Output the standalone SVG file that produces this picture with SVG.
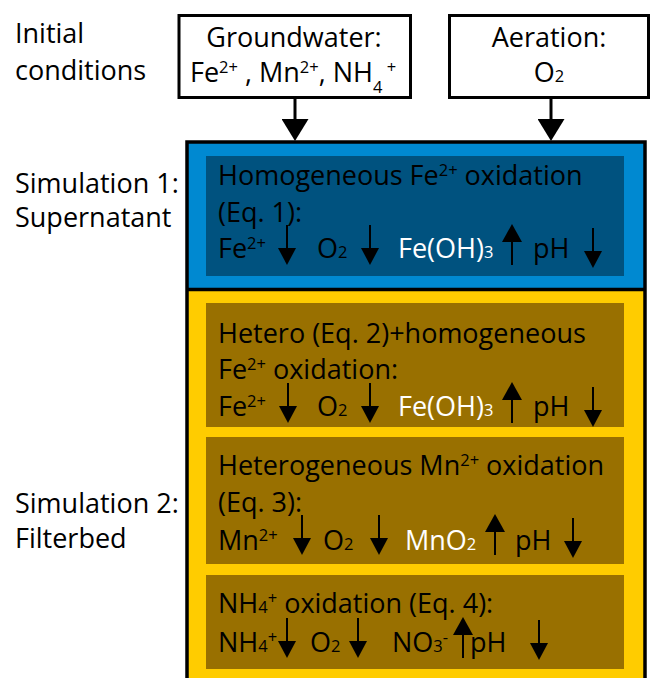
<svg xmlns="http://www.w3.org/2000/svg" xmlns:xlink="http://www.w3.org/1999/xlink" width="652" height="678" viewBox="0 0 652 678">
<style>
.t{font-family:"Open Sans","Liberation Sans",sans-serif;font-size:27px;fill:#000}
.w{fill:#fff}
.s{font-size:16.5px}
.box{fill:#fff;stroke:#000;stroke-width:3}
.conn{stroke:#000;stroke-width:3;fill:none}
.blue{fill:#0089D1}
.dblue{fill:#00527F}
.yel{fill:#FFCC00}
.brown{fill:#997000}
</style>
<defs>
<marker id="head" viewBox="0 0 22 27" refX="0" refY="13.5" markerWidth="22" markerHeight="27" markerUnits="userSpaceOnUse" orient="auto">
<path d="M0,0 L22,13.5 L0,27 z" fill="#000"/>
</marker>
<g id="ad"><line x1="0" y1="0" x2="0" y2="25" stroke="#000" stroke-width="2"/><polygon points="-9,23 9,23 0,40" fill="#000"/></g>
<g id="au"><polygon points="0,0 -10,18 10,18" fill="#000"/><line x1="0" y1="16" x2="0" y2="41" stroke="#000" stroke-width="2"/></g>
</defs>
<rect width="652" height="678" fill="#fff"/>

<g id="labels">
<text class="t" x="15" y="43">Initial</text>
<text class="t" x="15" y="80">conditions</text>
<text class="t" x="15" y="193">Simulation 1:</text>
<text class="t" x="15" y="227">Supernatant</text>
<text class="t" x="15" y="513">Simulation 2:</text>
<text class="t" x="15" y="548">Filterbed</text>
</g>

<g id="node-groundwater">
<rect class="box" x="179" y="15.5" width="231.5" height="82"/>
<text class="t" x="294" y="47" text-anchor="middle">Groundwater:</text>
<text class="t" x="190" y="82">Fe<tspan class="s" dy="-9">2+</tspan><tspan dy="9"> , Mn</tspan><tspan class="s" dy="-9">2+</tspan><tspan dy="9">, NH</tspan><tspan class="s" dy="11">4</tspan><tspan class="s" dy="-20"> +</tspan></text>
</g>

<g id="node-aeration">
<rect class="box" x="449.5" y="15.5" width="199" height="82"/>
<text class="t" x="549" y="47" text-anchor="middle">Aeration:</text>
<text class="t" x="549" y="82" text-anchor="middle">O<tspan class="s">2</tspan></text>
</g>

<g id="node-simulations">
<rect class="blue" x="187" y="142" width="458" height="148"/>
<rect class="yel" x="187" y="290" width="458" height="392"/>
<rect x="187" y="142" width="458" height="545" fill="none" stroke="#000" stroke-width="3.5"/>
<line x1="187" y1="289.5" x2="645" y2="289.5" stroke="#000" stroke-width="3.5"/>
</g>

<g id="node-fe-homogeneous">
<rect class="dblue" x="206" y="156" width="418" height="120"/>
<text class="t" x="218" y="185">Homogeneous Fe<tspan class="s" dy="-9">2+</tspan><tspan dy="9"> oxidation</tspan></text>
<text class="t" x="218" y="222">(Eq. 1):</text>
<text class="t" x="218" y="258">Fe<tspan class="s" dy="-9">2+</tspan></text>
<use href="#ad" x="287" y="225"/>
<text class="t" x="317" y="258">O<tspan class="s">2</tspan></text>
<use href="#ad" x="370" y="225"/>
<text class="t w" x="398" y="258">Fe(OH)<tspan class="s">3</tspan></text>
<use href="#au" x="512" y="224"/>
<text class="t" x="533" y="258">pH</text>
<use href="#ad" x="593" y="228"/>
</g>

<g id="node-fe-hetero">
<rect class="brown" x="206" y="303" width="418" height="124"/>
<text class="t" x="218" y="343">Hetero (Eq. 2)+homogeneous</text>
<text class="t" x="218" y="379">Fe<tspan class="s" dy="-9">2+</tspan><tspan dy="9"> oxidation:</tspan></text>
<text class="t" x="218" y="416">Fe<tspan class="s" dy="-9">2+</tspan></text>
<use href="#ad" x="288" y="383"/>
<text class="t" x="317" y="416">O<tspan class="s">2</tspan></text>
<use href="#ad" x="370" y="383"/>
<text class="t w" x="398" y="416">Fe(OH)<tspan class="s">3</tspan></text>
<use href="#au" x="512" y="382"/>
<text class="t" x="533" y="416">pH</text>
<use href="#ad" x="593" y="387"/>
</g>

<g id="node-mn">
<rect class="brown" x="206" y="437" width="418" height="127"/>
<text class="t" x="218" y="475">Heterogeneous Mn<tspan class="s" dy="-9">2+</tspan><tspan dy="9"> oxidation</tspan></text>
<text class="t" x="218" y="512">(Eq. 3):</text>
<text class="t" x="218" y="550">Mn<tspan class="s" dy="-9">2+</tspan></text>
<use href="#ad" x="302" y="515"/>
<text class="t" x="323" y="550">O<tspan class="s">2</tspan></text>
<use href="#ad" x="379" y="515"/>
<text class="t w" x="405" y="550">MnO<tspan class="s">2</tspan></text>
<use href="#au" x="495" y="514"/>
<text class="t" x="515" y="550">pH</text>
<use href="#ad" x="573" y="518"/>
</g>

<g id="node-nh4">
<rect class="brown" x="206" y="575" width="418" height="94"/>
<text class="t" x="218" y="613">NH<tspan class="s">4</tspan><tspan class="s" dy="-9">+</tspan><tspan dy="9"> oxidation (Eq. 4):</tspan></text>
<text class="t" x="218" y="652">NH<tspan class="s">4</tspan><tspan class="s" dy="-9">+</tspan></text>
<use href="#ad" x="287" y="618"/>
<text class="t" x="310" y="652">O<tspan class="s">2</tspan></text>
<use href="#ad" x="358" y="618"/>
<text class="t" x="392" y="652">NO<tspan class="s">3</tspan><tspan class="s" dy="-9">-</tspan></text>
<use href="#au" x="463" y="617"/>
<text class="t" x="470" y="652">pH</text>
<use href="#ad" x="539" y="620"/>
</g>

<g id="connectors">
<line class="conn" x1="295" y1="99" x2="295" y2="119" marker-end="url(#head)"/>
<line class="conn" x1="551" y1="99" x2="551" y2="119" marker-end="url(#head)"/>
</g>
</svg>
